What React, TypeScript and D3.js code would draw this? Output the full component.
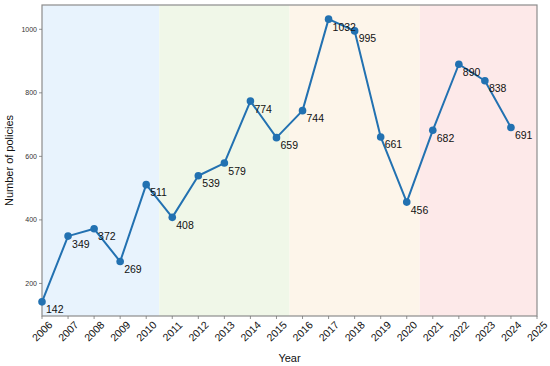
import * as d3 from "d3"

const years = [2006, 2007, 2008, 2009, 2010, 2011, 2012, 2013, 2014, 2015, 2016, 2017, 2018, 2019, 2020, 2021, 2022, 2023, 2024]
const policies = [142, 349, 372, 269, 511, 408, 539, 579, 774, 659, 744, 1032, 995, 661, 456, 682, 890, 838, 691]
const xTicks = d3.range(2006, 2026)
const yTicks = [200, 400, 600, 800, 1000]

// * background periods
const bandStarts = [2006, 2010.5, 2015.5, 2020.5]
const bandEnds = [2010.5, 2015.5, 2020.5, 2025]
const bandColors = ["#e8f3fd", "#f0f7e8", "#fdf5ea", "#fde9e9"]

const width = 550
const height = 366
const margin = { top: 5, right: 13, bottom: 50, left: 42 }
const font = "'Liberation Sans', Arial, sans-serif"

export default function App() {
  const x = d3.scaleLinear().domain([2006, 2025]).range([margin.left, width - margin.right])
  const y = d3.scaleLinear().domain([97.5, 1076.5]).range([height - margin.bottom, margin.top])

  const line = d3
    .line<number>()
    .x((_, i) => x(years[i]))
    .y((d) => y(d))

  const top = margin.top
  const bottom = height - margin.bottom
  const left = margin.left
  const right = width - margin.right

  return (
    <svg
      width={width}
      height={height}
      style={{ position: "absolute", left: 0, top: 0, background: "#fff" }}
      fontFamily={font}
    >
      {bandStarts.map((s, i) => (
        <rect key={s} x={x(s)} y={top} width={x(bandEnds[i]) - x(s)} height={bottom - top} fill={bandColors[i]} />
      ))}

      {/* frame */}
      <rect x={left} y={top} width={right - left} height={bottom - top} fill="none" stroke="#8c8c8c" strokeWidth={1.2} />

      {/* y axis */}
      {yTicks.map((t) => (
        <g key={t}>
          <line x1={left - 3} x2={left} y1={y(t)} y2={y(t)} stroke="#777" strokeWidth={0.8} />
          <text x={left - 5} y={y(t)} textAnchor="end" dominantBaseline="central" fontSize={7} fill="#333">
            {t}
          </text>
        </g>
      ))}

      {/* x axis */}
      {xTicks.map((t) => (
        <g key={t}>
          <line x1={x(t)} x2={x(t)} y1={bottom} y2={bottom + 3} stroke="#777" strokeWidth={0.8} />
          <text
            transform={`translate(${x(t)},${bottom + 15}) rotate(-45)`}
            textAnchor="middle"
            dominantBaseline="central"
            fontSize={10.5}
            fill="#111"
          >
            {t}
          </text>
        </g>
      ))}

      <text x={(left + right) / 2} y={358} textAnchor="middle" dominantBaseline="central" fontSize={11} fill="#111">
        Year
      </text>
      <text
        transform={`translate(9,${(top + bottom) / 2}) rotate(-90)`}
        textAnchor="middle"
        dominantBaseline="central"
        fontSize={11}
        fill="#111"
      >
        Number of policies
      </text>

      <path d={line(policies) ?? ""} fill="none" stroke="#2271b1" strokeWidth={2} strokeLinejoin="round" />
      {policies.map((v, i) => (
        <circle key={years[i]} cx={x(years[i])} cy={y(v)} r={3.8} fill="#2271b1" />
      ))}
      {policies.map((v, i) => (
        <text key={"l" + years[i]} x={x(years[i]) + 4} y={y(v) + 11.5} fontSize={10.5} fill="#111">
          {v}
        </text>
      ))}
    </svg>
  )
}
